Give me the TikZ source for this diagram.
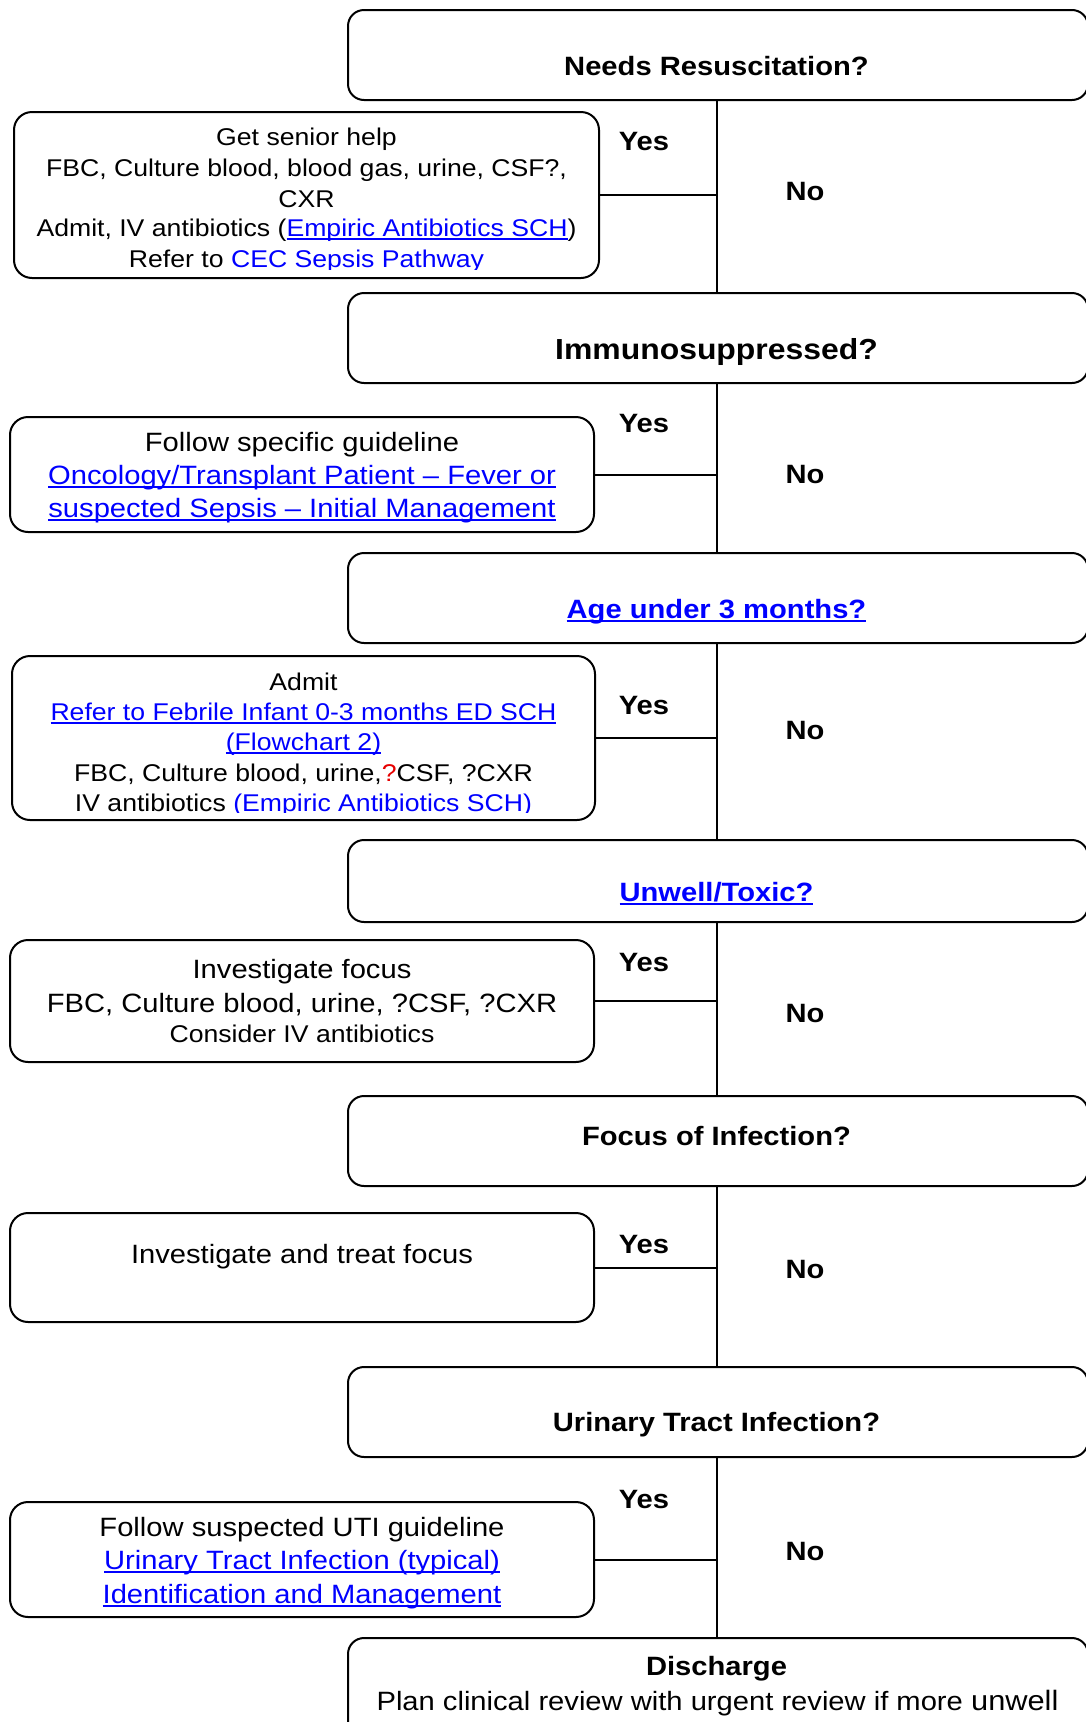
\documentclass[tikz,border=0pt]{standalone}
\usepackage{fontspec}
\setmainfont{Liberation Sans}[FakeStretch=1.1]
\definecolor{linkblue}{RGB}{0,0,255}
\definecolor{qred}{RGB}{230,0,0}
\newcommand\fsA{\fontsize{26.5}{33}\selectfont}
\newcommand\fsB{\fontsize{24.2}{30.5}\selectfont}
\newcommand\fsC{\fontsize{29}{35}\selectfont}
\newsavebox\myulbox
\newcommand\myul[1]{\leavevmode\sbox\myulbox{#1}\rlap{\rule[-4.4pt]{\wd\myulbox}{2.4pt}}\usebox\myulbox}
\newcommand\mylink[1]{\textcolor{linkblue}{\myul{#1}}}
\newcommand\myblue[1]{\textcolor{linkblue}{#1}}
\tikzset{
  dbox/.style={draw, line width=2pt, rounded corners=16pt, inner sep=0pt, minimum width=740pt},
  lbox/.style={draw, line width=2pt, rounded corners=18pt, inner sep=0pt},
  conn/.style={line width=2pt},
  txt/.style={anchor=base, inner sep=0pt},
  lab/.style={anchor=base, inner sep=0pt, font=\fsA\bfseries},
}
\begin{document}
\begin{tikzpicture}[x=1pt,y=-1pt]
\useasboundingbox (0,0) rectangle (1085,1722);
% decision boxes
\node[dbox, minimum height=90pt] (D1) at (718,55) {};
\node[dbox, minimum height=90pt] (D2) at (718,338) {};
\node[dbox, minimum height=90pt] (D3) at (718,598) {};
\node[dbox, minimum height=82pt] (D4) at (718,881) {};
\node[dbox, minimum height=90pt] (D5) at (718,1141) {};
\node[dbox, minimum height=90pt] (D6) at (718,1412) {};
\node[dbox, minimum height=120pt] (D7) at (718,1698) {};
% action boxes
\node[lbox, minimum width=585pt, minimum height=166pt] (L1) at (306.5,195) {};
\node[lbox, minimum width=584pt, minimum height=115pt] (L2) at (302,474.5) {};
\node[lbox, minimum width=583pt, minimum height=164pt] (L3) at (303.5,738) {};
\node[lbox, minimum width=584pt, minimum height=122pt] (L4) at (302,1001) {};
\node[lbox, minimum width=584pt, minimum height=109pt] (L5) at (302,1267.5) {};
\node[lbox, minimum width=584pt, minimum height=115pt] (L6) at (302,1559.5) {};
% connector spine coordinates
\coordinate (sx) at (717,0);
% connectors
\draw[conn] (D1.south -| sx) -- (D2.north -| sx);
\draw[conn] (D2.south -| sx) -- (D3.north -| sx);
\draw[conn] (D3.south -| sx) -- (D4.north -| sx);
\draw[conn] (D4.south -| sx) -- (D5.north -| sx);
\draw[conn] (D5.south -| sx) -- (D6.north -| sx);
\draw[conn] (D6.south -| sx) -- (D7.north -| sx);
\draw[conn] (L1.east) -- (L1.east -| sx);
\draw[conn] (L2.east) -- (L2.east -| sx);
\draw[conn] (L3.east) -- (L3.east -| sx);
\draw[conn] (L4.east) -- (L4.east -| sx);
\draw[conn] (L5.east) -- (L5.east -| sx);
\draw[conn] (L6.east) -- (L6.east -| sx);
% decision texts
\node[txt, font=\fsA\bfseries] (d1t) at (716.5,75) {Needs Resuscitation?};
\node[txt, font=\fsC\bfseries] (d2t) at (716.5,359) {Immunosuppressed?};
\node[txt, font=\fsA\bfseries] (d3t) at (716.5,618) {\mylink{Age under 3 months?}};
\node[txt, font=\fsA\bfseries] (d4t) at (716.5,901) {\mylink{Unwell/Toxic?}};
\node[txt, font=\fsA\bfseries] (d5t) at (716.5,1145) {Focus of Infection?};
\node[txt, font=\fsA\bfseries] (d6t) at (716.5,1431) {Urinary Tract Infection?};
\node[txt, font=\fsA\bfseries] (d7t) at (716.5,1675) {Discharge};
\node[txt, font=\fsA] (d7u) at (717.5,1710) {Plan clinical review with urgent review if more {\fontsize{28}{33}\selectfont unwell}};
% Yes / No labels
\node[lab] (y1) at (644,150) {Yes};
\node[lab] (n1) at (805,200) {No};
\node[lab] (y2) at (644,432) {Yes};
\node[lab] (n2) at (805,483) {No};
\node[lab] (y3) at (644,714) {Yes};
\node[lab] (n3) at (805,739) {No};
\node[lab] (y4) at (644,971) {Yes};
\node[lab] (n4) at (805,1022) {No};
\node[lab] (y5) at (644,1253) {Yes};
\node[lab] (n5) at (805,1278) {No};
\node[lab] (y6) at (644,1508) {Yes};
\node[lab] (n6) at (805,1560) {No};
% L1 text
\node[txt, font=\fsB] (l1a) at (306.5,145) {Get senior help};
\node[txt, font=\fsB] (l1b) at (306.5,176) {FBC, Culture blood, blood gas, urine, CSF?,};
\node[txt, font=\fsB] (l1c) at (306.5,207) {CXR};
\node[txt, font=\fsB] (l1d) at (306.5,236) {Admit, IV antibiotics (\mylink{Empiric Antibiotics SCH})};
\begin{scope}
\clip (14,240) rectangle (599,269);
\node[txt, font=\fsB] (l1e) at (306.5,267) {Refer to \myblue{CEC Sepsis Pathway}};
\end{scope}
% L2 text
\node[txt, font=\fsA] (l2a) at (302,451) {Follow specific guideline};
\node[txt, font=\fsA] (l2b) at (302,484) {\mylink{Oncology/Transplant Patient – Fever or}};
\node[txt, font=\fsA] (l2c) at (302,517) {\mylink{suspected Sepsis – Initial Management}};
% L3 text
\node[txt, font=\fsB] (l3a) at (303.5,690) {Admit};
\node[txt, font=\fsB] (l3b) at (303.5,720) {\mylink{Refer to Febrile Infant 0-3 months ED SCH}};
\node[txt, font=\fsB] (l3c) at (303.5,750) {\mylink{(Flowchart 2)}};
\node[txt, font=\fsB] (l3d) at (303.5,781) {FBC, Culture blood, urine,\textcolor{qred}{?}CSF, ?CXR};
\begin{scope}
\clip (12,785) rectangle (595,812);
\node[txt, font=\fsB] (l3e) at (303.5,811) {IV antibiotics \myblue{(Empiric Antibiotics SCH)}};
\end{scope}
% L4 text
\node[txt, font=\fsA] (l4a) at (302,978) {Investigate focus};
\node[txt, font=\fsA] (l4b) at (302,1012) {FBC, Culture blood, urine, ?CSF, ?CXR};
\node[txt, font=\fsB] (l4c) at (302,1042) {Consider IV antibiotics};
% L5 text
\node[txt, font=\fsA] (l5a) at (302,1263) {Investigate and treat focus};
% L6 text
\node[txt, font=\fsA] (l6a) at (302,1536) {Follow suspected UTI guideline};
\node[txt, font=\fsA] (l6b) at (302,1569) {\mylink{Urinary Tract Infection (typical)}};
\node[txt, font=\fsA] (l6c) at (302,1603) {\mylink{Identification and Management}};
\end{tikzpicture}
\end{document}
